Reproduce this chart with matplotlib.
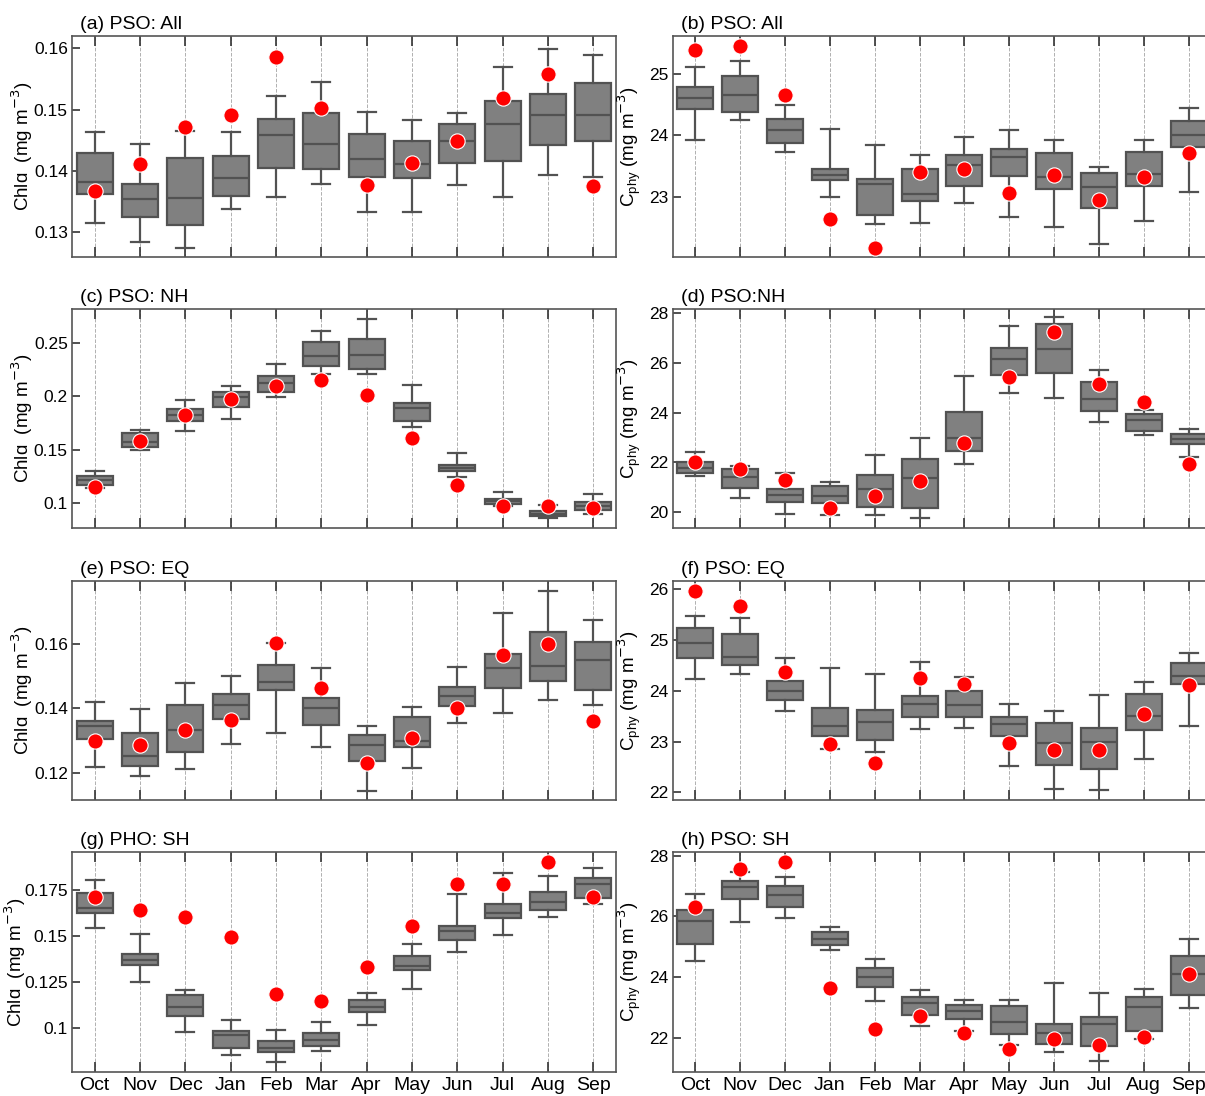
import numpy as np
import matplotlib
matplotlib.use('Agg')
import matplotlib.pyplot as plt
from matplotlib import font_manager

months = ['Oct', 'Nov', 'Dec', 'Jan', 'Feb', 'Mar', 'Apr', 'May', 'Jun', 'Jul', 'Aug', 'Sep']

# (a) PSO: All  - Chla
a_hi  = [0.1464, 0.1444, 0.1465, 0.1464, 0.1522, 0.1545, 0.1496, 0.1483, 0.1495, 0.1570, 0.1599, 0.1589]
a_q3  = [0.1430, 0.1379, 0.1421, 0.1424, 0.1484, 0.1495, 0.1460, 0.1449, 0.1476, 0.1514, 0.1526, 0.1544]
a_med = [0.1382, 0.1355, 0.1356, 0.1388, 0.1459, 0.1444, 0.1419, 0.1412, 0.1449, 0.1476, 0.1492, 0.1491]
a_q1  = [0.1362, 0.1325, 0.1312, 0.1359, 0.1405, 0.1403, 0.1390, 0.1389, 0.1413, 0.1416, 0.1442, 0.1449]
a_lo  = [0.1315, 0.1285, 0.1275, 0.1339, 0.1357, 0.1379, 0.1333, 0.1334, 0.1378, 0.1358, 0.1394, 0.1391]
a_dot = [0.1368, 0.1412, 0.1472, 0.1492, 0.1586, 0.1503, 0.1377, 0.1413, 0.1449, 0.1519, 0.1558, 0.1376]

# (b) PSO: All  - Cphy
b_hi  = [25.10, 25.20, 24.49, 24.11, 23.84, 23.68, 23.98, 24.08, 23.92, 23.49, 23.92, 24.45]
b_q3  = [24.79, 24.97, 24.26, 23.45, 23.29, 23.45, 23.68, 23.78, 23.71, 23.39, 23.73, 24.24]
b_med = [24.61, 24.65, 24.08, 23.36, 23.22, 23.05, 23.52, 23.65, 23.32, 23.17, 23.37, 24.00]
b_q1  = [24.43, 24.38, 23.88, 23.27, 22.71, 22.93, 23.18, 23.34, 23.13, 22.82, 23.18, 23.82]
b_lo  = [23.92, 24.25, 23.73, 23.01, 22.57, 22.58, 22.91, 22.68, 22.52, 22.24, 22.62, 23.09]
b_dot = [25.39, 25.45, 24.66, 22.65, 22.18, 23.40, 23.46, 23.07, 23.36, 22.96, 23.33, 23.72]

# (c) PSO: NH  - Chla
c_hi  = [0.1300, 0.1688, 0.1966, 0.2093, 0.2299, 0.2605, 0.2719, 0.2108, 0.1472, 0.1102, 0.0985, 0.1086]
c_q3  = [0.1260, 0.1654, 0.1880, 0.2040, 0.2191, 0.2503, 0.2531, 0.1941, 0.1358, 0.1040, 0.0932, 0.1009]
c_med = [0.1216, 0.1574, 0.1821, 0.1991, 0.2120, 0.2373, 0.2389, 0.1895, 0.1330, 0.1019, 0.0904, 0.0972]
c_q1  = [0.1167, 0.1531, 0.1765, 0.1904, 0.2040, 0.2284, 0.2253, 0.1765, 0.1306, 0.0991, 0.0883, 0.0941]
c_lo  = [0.1148, 0.1494, 0.1676, 0.1784, 0.1997, 0.2210, 0.2210, 0.1713, 0.1247, 0.0978, 0.0864, 0.0901]
c_dot = [0.1150, 0.1583, 0.1827, 0.1978, 0.2096, 0.2151, 0.2012, 0.1611, 0.1176, 0.0975, 0.0972, 0.0960]

# (d) PSO: NH  - Cphy
d_hi  = [22.43, 21.84, 21.56, 21.23, 22.28, 22.97, 25.49, 27.50, 27.83, 25.73, 24.12, 23.36]
d_q3  = [22.00, 21.74, 20.94, 21.03, 21.48, 22.12, 24.03, 26.59, 27.57, 25.25, 23.95, 23.15]
d_med = [21.76, 21.40, 20.68, 20.63, 20.94, 21.37, 22.97, 26.16, 26.56, 24.54, 23.70, 22.93]
d_q1  = [21.58, 20.97, 20.40, 20.36, 20.19, 20.17, 22.44, 25.50, 25.58, 24.08, 23.26, 22.75]
d_lo  = [21.46, 20.56, 19.91, 19.88, 19.87, 19.76, 21.92, 24.81, 24.58, 23.62, 23.09, 22.20]
d_dot = [22.00, 21.73, 21.28, 20.17, 20.66, 21.25, 22.77, 25.44, 27.25, 25.15, 24.43, 21.95]

# (e) PSO: EQ  - Chla
e_hi  = [0.1420, 0.1399, 0.1478, 0.1501, 0.1603, 0.1525, 0.1345, 0.1403, 0.1530, 0.1695, 0.1766, 0.1675]
e_q3  = [0.1360, 0.1324, 0.1409, 0.1446, 0.1536, 0.1433, 0.1317, 0.1373, 0.1467, 0.1570, 0.1638, 0.1605]
e_med = [0.1345, 0.1253, 0.1332, 0.1411, 0.1483, 0.1400, 0.1287, 0.1297, 0.1438, 0.1527, 0.1532, 0.1551]
e_q1  = [0.1304, 0.1222, 0.1265, 0.1368, 0.1457, 0.1347, 0.1236, 0.1280, 0.1406, 0.1463, 0.1485, 0.1456]
e_lo  = [0.1218, 0.1191, 0.1210, 0.1288, 0.1324, 0.1281, 0.1144, 0.1216, 0.1354, 0.1387, 0.1426, 0.1411]
e_dot = [0.1297, 0.1285, 0.1333, 0.1364, 0.1602, 0.1464, 0.1230, 0.1309, 0.1400, 0.1566, 0.1601, 0.1362]

# (f) PSO: EQ  - Cphy
f_hi  = [25.47, 25.44, 24.65, 24.45, 24.33, 24.56, 24.28, 23.73, 23.60, 23.91, 24.17, 24.74]
f_q3  = [25.23, 25.12, 24.20, 23.66, 23.63, 23.90, 24.00, 23.48, 23.36, 23.26, 23.94, 24.55]
f_med = [24.93, 24.67, 23.99, 23.31, 23.38, 23.74, 23.71, 23.34, 22.97, 23.00, 23.50, 24.30]
f_q1  = [24.64, 24.51, 23.82, 23.11, 23.04, 23.48, 23.49, 23.10, 22.53, 22.46, 23.23, 24.14]
f_lo  = [24.24, 24.33, 23.61, 22.85, 22.79, 23.24, 23.27, 22.52, 22.07, 22.05, 22.66, 23.31]
f_dot = [25.97, 25.66, 24.37, 22.95, 22.57, 24.25, 24.13, 22.97, 22.84, 22.83, 23.55, 24.12]

# (g) PHO: SH  - Chla
g_hi  = [0.1801, 0.1511, 0.1207, 0.1042, 0.0987, 0.1031, 0.1187, 0.1453, 0.1726, 0.1839, 0.1826, 0.1868]
g_q3  = [0.1732, 0.1399, 0.1176, 0.0982, 0.0929, 0.0971, 0.1150, 0.1391, 0.1551, 0.1674, 0.1736, 0.1813]
g_med = [0.1652, 0.1370, 0.1112, 0.0958, 0.0890, 0.0935, 0.1111, 0.1337, 0.1525, 0.1621, 0.1681, 0.1779]
g_q1  = [0.1625, 0.1339, 0.1065, 0.0890, 0.0868, 0.0900, 0.1085, 0.1312, 0.1478, 0.1596, 0.1639, 0.1707]
g_lo  = [0.1543, 0.1246, 0.0976, 0.0853, 0.0813, 0.0875, 0.1013, 0.1212, 0.1409, 0.1505, 0.1603, 0.1674]
g_dot = [0.1710, 0.1641, 0.1601, 0.1493, 0.1181, 0.1145, 0.1330, 0.1554, 0.1779, 0.1783, 0.1900, 0.1712]

# (h) PSO: SH  - Cphy
h_hi  = [26.75, 27.46, 27.30, 25.66, 24.60, 23.59, 23.25, 23.24, 23.81, 23.47, 23.62, 25.26]
h_q3  = [26.21, 27.17, 27.00, 25.48, 24.30, 23.34, 23.08, 23.06, 22.46, 22.69, 23.36, 24.71]
h_med = [25.84, 26.96, 26.69, 25.27, 24.01, 23.14, 22.89, 22.52, 22.16, 22.46, 23.02, 24.10]
h_q1  = [25.10, 26.57, 26.31, 25.05, 23.69, 22.76, 22.63, 22.14, 21.80, 21.75, 22.23, 23.40]
h_lo  = [24.54, 25.82, 25.95, 24.91, 23.23, 22.41, 22.22, 21.78, 21.54, 21.23, 21.97, 22.99]
h_dot = [26.30, 27.57, 27.80, 23.66, 22.30, 22.73, 22.16, 21.65, 21.95, 21.78, 22.02, 24.10]

titles = ['(a) PSO: All', '(b) PSO: All', '(c) PSO: NH', '(d) PSO:NH',
          '(e) PSO: EQ', '(f) PSO: EQ', '(g) PHO: SH', '(h) PSO: SH']

a_ticks = [0.13, 0.14, 0.15, 0.16]
a_tlab = ['0.13', '0.14', '0.15', '0.16']
b_ticks = [23, 24, 25]
c_ticks = [0.1, 0.15, 0.2, 0.25]
c_tlab = ['0.1', '0.15', '0.2', '0.25']
d_ticks = [20, 22, 24, 26, 28]
e_ticks = [0.12, 0.14, 0.16]
e_tlab = ['0.12', '0.14', '0.16']
f_ticks = [22, 23, 24, 25, 26]
g_ticks = [0.1, 0.125, 0.15, 0.175]
g_tlab = ['0.1', '0.125', '0.15', '0.175']
h_ticks = [22, 24, 26, 28]

panels = [
    (a_lo, a_q1, a_med, a_q3, a_hi, a_dot, a_ticks, a_tlab, (0.126, 0.162)),
    (b_lo, b_q1, b_med, b_q3, b_hi, b_dot, b_ticks, [str(t) for t in b_ticks], (22.03, 25.61)),
    (c_lo, c_q1, c_med, c_q3, c_hi, c_dot, c_ticks, c_tlab, (0.077, 0.2815)),
    (d_lo, d_q1, d_med, d_q3, d_hi, d_dot, d_ticks, [str(t) for t in d_ticks], (19.36, 28.17)),
    (e_lo, e_q1, e_med, e_q3, e_hi, e_dot, e_ticks, e_tlab, (0.1115, 0.1796)),
    (f_lo, f_q1, f_med, f_q3, f_hi, f_dot, f_ticks, [str(t) for t in f_ticks], (21.85, 26.16)),
    (g_lo, g_q1, g_med, g_q3, g_hi, g_dot, g_ticks, g_tlab, (0.0759, 0.1955)),
    (h_lo, h_q1, h_med, h_q3, h_hi, h_dot, h_ticks, [str(t) for t in h_ticks], (20.88, 28.12)),
]

plt.rcParams['font.family'] = ['Liberation Sans', 'DejaVu Sans']

# narrow font for the y tick numbers, if one is installed
names = {f.name for f in font_manager.fontManager.ttflist}
tick_size = 14
if 'Liberation Sans Narrow' in names:
    narrow = ['Liberation Sans Narrow', 'DejaVu Sans']
elif 'DejaVu Sans Condensed' in names:
    narrow = ['DejaVu Sans Condensed', 'DejaVu Sans']
    tick_size = 12.5
else:
    narrow = ['Liberation Sans', 'DejaVu Sans']
    tick_size = 12.5

fig = plt.figure(figsize=(12.05, 10.96), dpi=100)

W, H = 1205., 1096.
col_x = [(72, 544), (673, 538)]
row_y = [(36, 257), (309, 528), (581, 800), (852, 1072)]
# centre of y label, axes fraction (left column per row, right column)
label_x_left = [-0.092, -0.092, -0.092, -0.104]
label_x_right = -0.080

edge = '#525252'
pos = np.arange(1, 13)

for i, (lo, q1, med, q3, hi, dot, ticks, tlab, ylim) in enumerate(panels):
    r, c = i // 2, i % 2
    x0, w = col_x[c]
    yt, yb = row_y[r]
    ax = fig.add_axes([x0 / W, 1 - yb / H, w / W, (yb - yt) / H])

    stats = [dict(whislo=lo[k], q1=q1[k], med=med[k], q3=q3[k], whishi=hi[k], fliers=[])
             for k in range(12)]
    ax.bxp(stats, positions=pos, widths=0.8, patch_artist=True, showfliers=False,
           boxprops=dict(facecolor='#808080', edgecolor=edge, linewidth=1.6),
           medianprops=dict(color=edge, linewidth=1.6),
           whiskerprops=dict(color=edge, linewidth=1.6),
           capprops=dict(color=edge, linewidth=1.6), capwidths=0.4)
    ax.plot(pos, dot, 'o', color='red', markeredgecolor='white', markeredgewidth=0.8,
            markersize=11, zorder=5)

    ax.set_xlim(0.5, 12.5)
    ax.set_ylim(*ylim)
    ax.set_xticks(pos)
    ax.grid(axis='x', linestyle='--', color='#b0b0b0', linewidth=0.7)
    ax.set_axisbelow(True)
    ax.set_yticks(ticks)
    ax.set_yticklabels(tlab, family=narrow, fontsize=tick_size)
    ax.tick_params(direction='in', top=True, bottom=True, length=7, width=1.2, color='#333333')
    ax.tick_params(axis='y', length=6, pad=3)
    if r == 3:
        ax.set_xticklabels(months, fontsize=14)
    else:
        ax.set_xticklabels([])
    for s in ax.spines.values():
        s.set_color('#555555')
        s.set_linewidth(1.2)

    if c == 0:
        ax.set_ylabel('Chl\u0251  (mg m$^{-3}$)', fontsize=13.5, va='center')
        ax.yaxis.set_label_coords(label_x_left[r], 0.5)
    else:
        ax.set_ylabel('C$_{\\mathregular{phy}}$ (mg m$^{-3}$)', fontsize=13.5, va='center')
        ax.yaxis.set_label_coords(label_x_right, 0.5)
    ax.text(0.015, 1.015, titles[i], transform=ax.transAxes, fontsize=14,
            ha='left', va='bottom')

fig.savefig('out.png', dpi=100)
